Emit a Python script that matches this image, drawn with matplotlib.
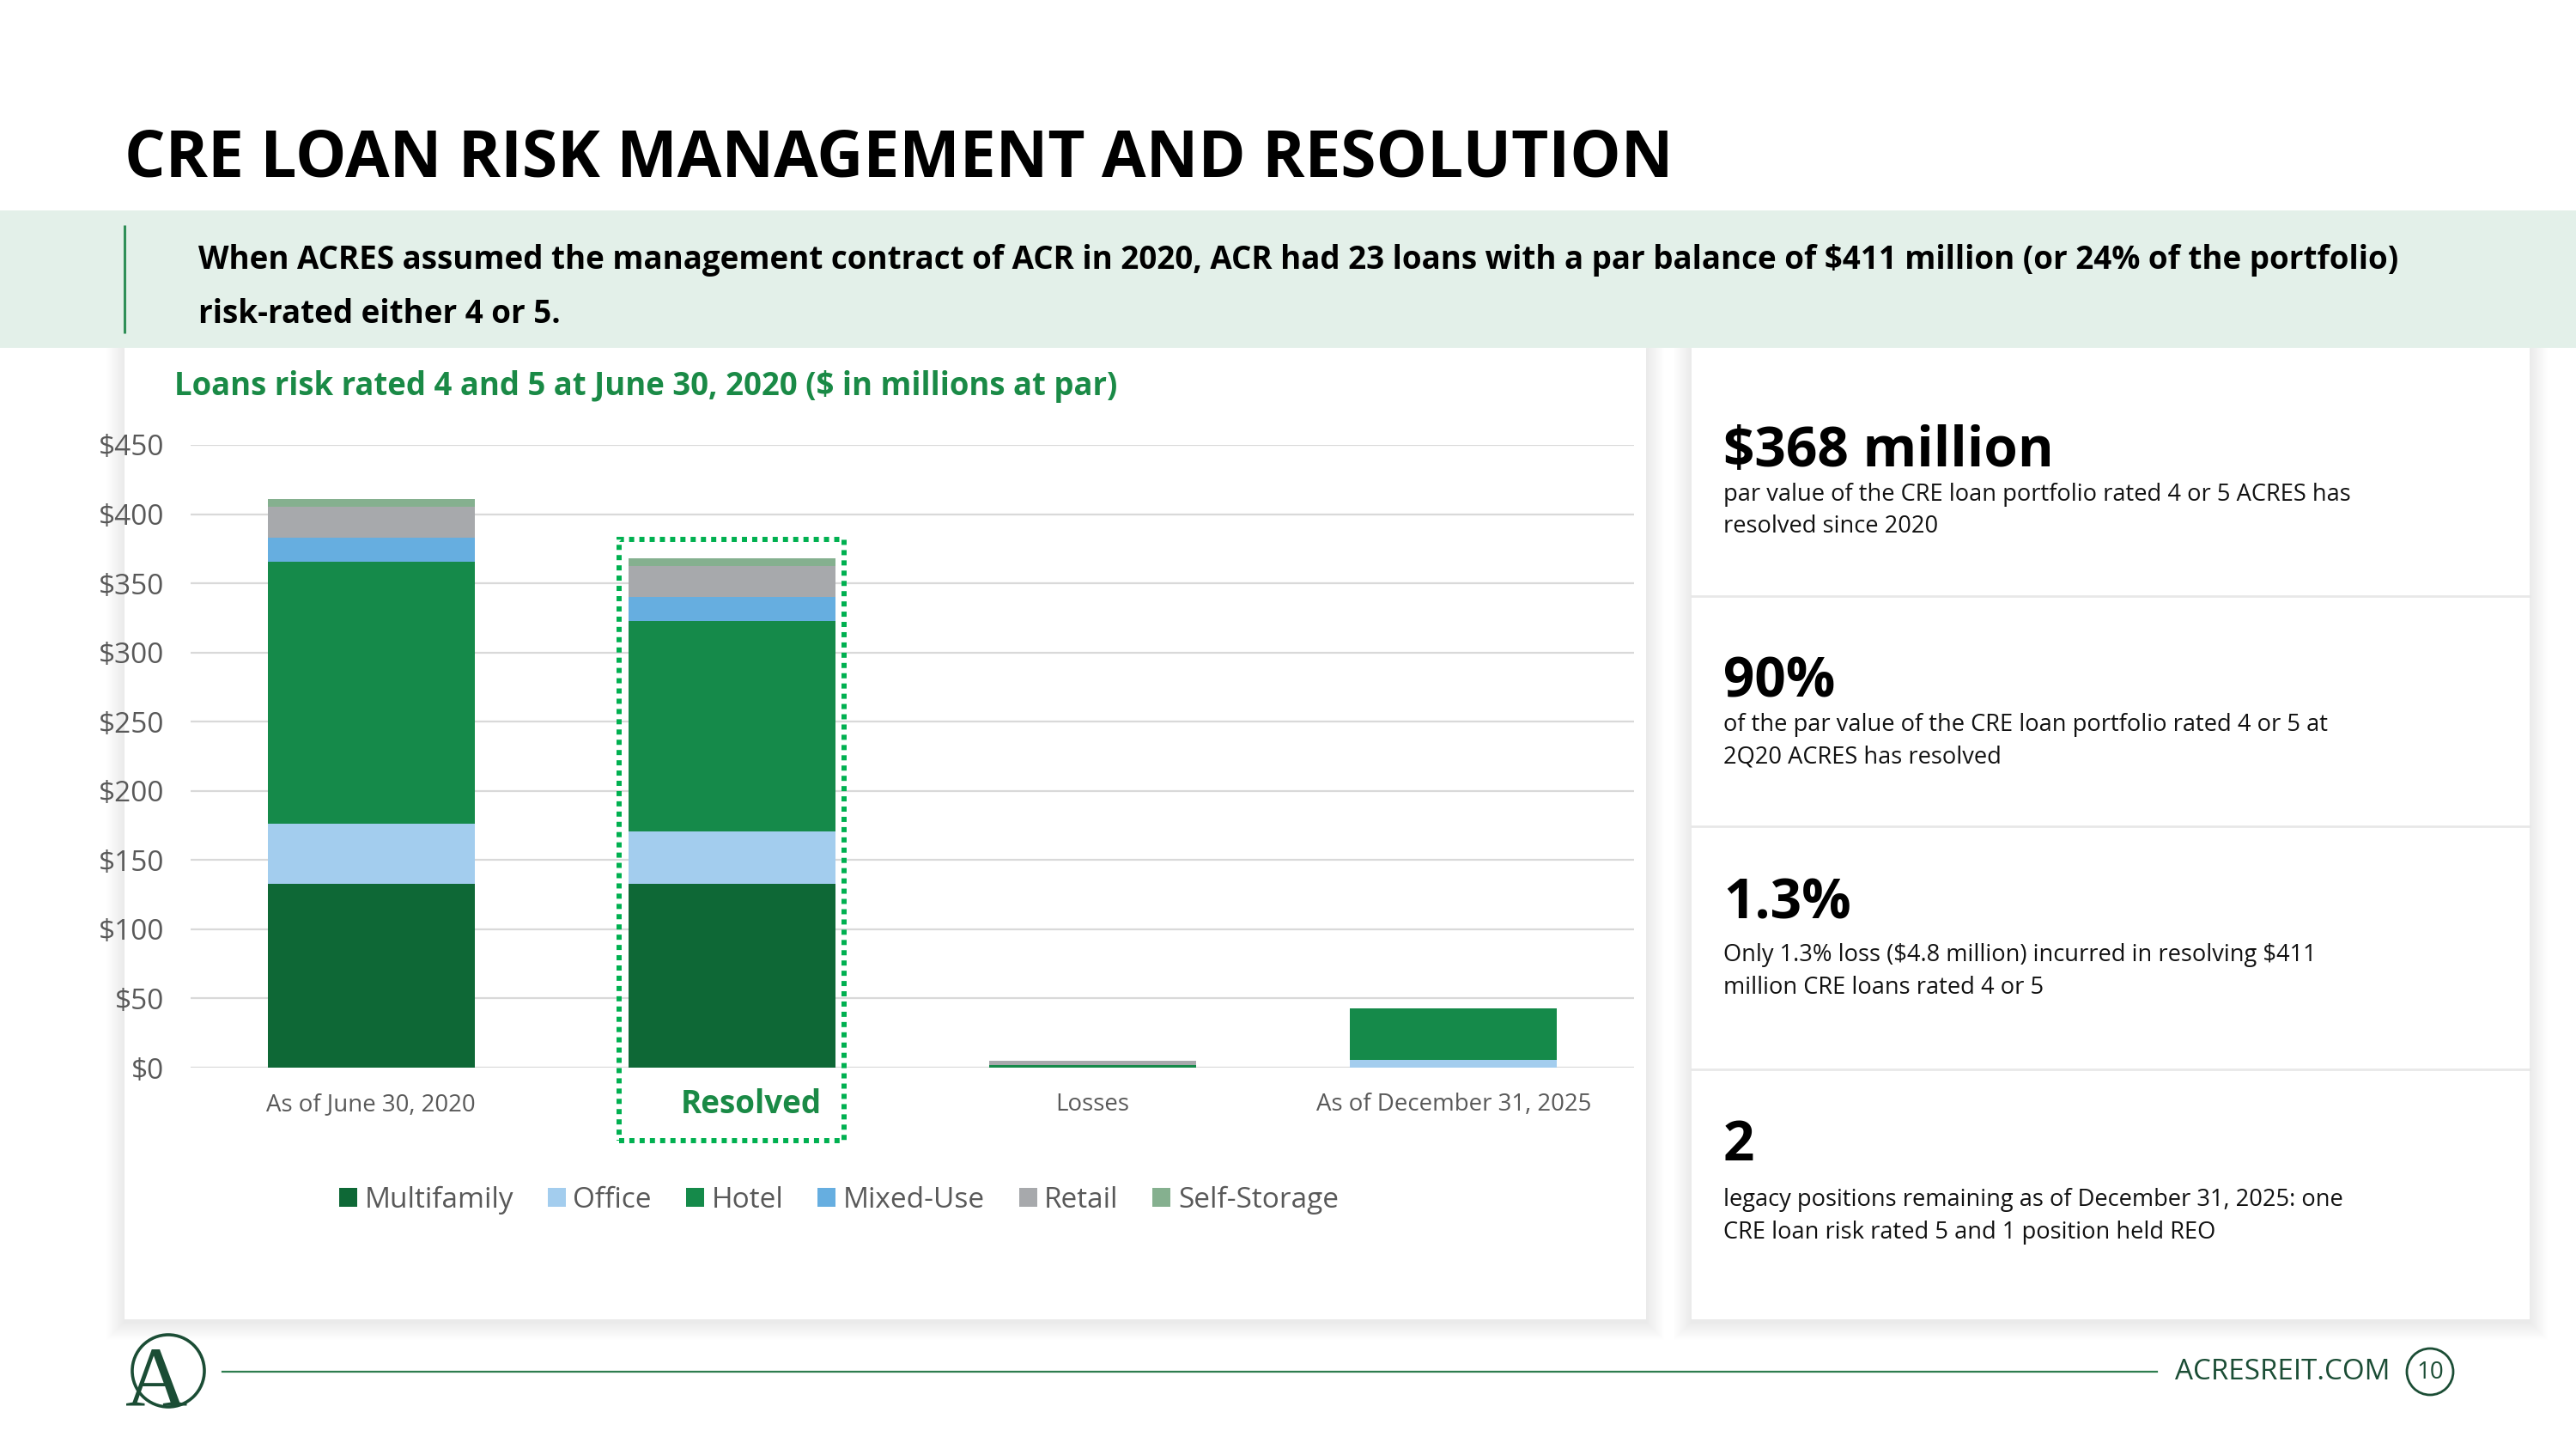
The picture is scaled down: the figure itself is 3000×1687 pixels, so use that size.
import matplotlib
matplotlib.use('Agg')
import matplotlib.pyplot as plt
from matplotlib.patches import Rectangle, Circle
from matplotlib.transforms import ScaledTranslation
import numpy as np

plt.rcParams['text.parse_math'] = False

# chart data ($ in millions at par)
categories = ['As of June 30, 2020', 'Resolved', 'Losses', 'As of December 31, 2025']
multifamily = [133, 133, 0, 0]
office = [43.2, 37.5, 0, 5.4]
hotel = [189.6, 152.4, 2.0, 37.5]
mixed_use = [17.2, 17.5, 0, 0]
retail = [22.4, 22.1, 2.8, 0]
self_storage = [5.5, 5.3, 0, 0]

series_names = ['Multifamily', 'Office', 'Hotel', 'Mixed-Use', 'Retail', 'Self-Storage']
series_colors = ['#0e6836', '#a3cdee', '#158a4a', '#66aee0', '#a7a9ac', '#85b08f']

y_ticks = [0, 50, 100, 150, 200, 250, 300, 350, 400, 450]

# right hand call-outs
stat_values = ['$368 million', '90%', '1.3%', '2']
stat_lines = [
    ['par value of the CRE loan portfolio rated 4 or 5 ACRES has', 'resolved since 2020'],
    ['of the par value of the CRE loan portfolio rated 4 or 5 at', '2Q20 ACRES has resolved'],
    ['Only 1.3% loss ($4.8 million) incurred in resolving $411', 'million CRE loans rated 4 or 5'],
    ['legacy positions remaining as of December 31, 2025: one', 'CRE loan risk rated 5 and 1 position held REO'],
]

W, H = 3000, 1687
GREEN = '#1a8a46'
DARK = '#1b4d35'
GREY_TXT = '#595959'
BODY = 'Open Sans'

fig = plt.figure(figsize=(30, 16.87), dpi=100)
fig.patch.set_facecolor('white')

# background layer in pixel coordinates
bg = fig.add_axes([0, 0, 1, 1], zorder=0)
bg.set_xlim(0, W)
bg.set_ylim(H, 0)
bg.axis('off')

panels = [(145, 405, 1917, 1536), (1970, 405, 2946, 1536)]
for x0, y0, x1, y1 in panels:
    for k in range(1, 22):
        bg.add_patch(Rectangle((x0 - k, y0 - k + 3), x1 - x0 + 2 * k, y1 - y0 + 2 * k,
                               facecolor='black', edgecolor='none', alpha=0.0035))
for x0, y0, x1, y1 in panels:
    bg.add_patch(Rectangle((x0, y0), x1 - x0, y1 - y0, facecolor='white', edgecolor='none'))

# green banner
bg.add_patch(Rectangle((0, 245), W, 160, facecolor='#e3f0e9', edgecolor='none'))
bg.plot([145, 145], [262, 388], color='#2f8f57', lw=2.2, solid_capstyle='butt')

bg.text(145, 205, 'CRE LOAN RISK MANAGEMENT AND RESOLUTION', family=BODY,
        fontsize=53.8, fontweight='bold', color='black', va='baseline')
bg.text(231, 313, 'When ACRES assumed the management contract of ACR in 2020, ACR had 23 loans '
        'with a par balance of $411 million (or 24% of the portfolio)',
        family=BODY, fontsize=26.5, fontweight='bold', color='black', va='baseline')
bg.text(231, 376, 'risk-rated either 4 or 5.', family=BODY, fontsize=26.5,
        fontweight='bold', color='black', va='baseline')

bg.text(203, 460, 'Loans risk rated 4 and 5 at June 30, 2020 ($ in millions at par)',
        family=BODY, fontsize=26.3, fontweight='bold', color=GREEN, va='baseline')

# right panel
for yy in [694, 962, 1245]:
    bg.plot([1970, 2946], [yy, yy], color='#e8e8e8', lw=2)
stat_base = [543, 811, 1069, 1351]
desc_base = [(583, 620), (851, 888), (1119, 1157), (1404, 1442)]
for val, lines, yb, (d1, d2) in zip(stat_values, stat_lines, stat_base, desc_base):
    bg.text(2007, yb, val, family=BODY, fontsize=46, fontweight='bold', color='black', va='baseline')
    bg.text(2007, d1, lines[0], family=BODY, fontsize=19.6, color='#111111', va='baseline')
    bg.text(2007, d2, lines[1], family=BODY, fontsize=19.6, color='#111111', va='baseline')

# footer
bg.add_patch(Circle((196, 1596), 42, facecolor='none', edgecolor=DARK, lw=2.6))
bg.text(182, 1637, 'A', family='Liberation Serif', fontsize=72, color=DARK,
        ha='center', va='baseline')
bg.plot([259, 2512], [1597, 1597], color='#2e7d4f', lw=1.6)
bg.text(2533, 1597, 'ACRESREIT.COM', family=BODY, fontsize=23.9, color=DARK, va='center')
bg.add_patch(Circle((2830, 1597), 27, facecolor='none', edgecolor=DARK, lw=2))
bg.text(2830, 1598, '10', family=BODY, fontsize=20, color=DARK, ha='center', va='center')

# chart
ax = fig.add_axes([222 / W, 1 - 1243 / H, (1903 - 222) / W, (1243 - 518) / H], zorder=2)
ax.patch.set_alpha(0)
x = np.arange(len(categories))
bar_w = 0.574
stack = [multifamily, office, hotel, mixed_use, retail, self_storage]
bottom = np.zeros(len(categories))
for vals, name, col in zip(stack, series_names, series_colors):
    ax.bar(x, vals, bar_w, bottom=bottom, color=col, label=name, zorder=3)
    bottom += np.array(vals)

ax.set_xlim(-0.5, 3.5)
ax.set_ylim(0, 450)
ax.set_yticks(y_ticks)
ax.set_yticklabels(['$' + str(v) for v in y_ticks], family=BODY, fontsize=24, color=GREY_TXT)
ax.yaxis.grid(True, color='#d9d9d9', lw=1.6, zorder=0)
ax.set_axisbelow(True)
for s in ax.spines.values():
    s.set_visible(False)
ax.tick_params(axis='both', length=0)
ax.tick_params(axis='y', pad=22)
ax.tick_params(axis='x', pad=31)
ax.set_xticks(x)
ax.set_xticklabels(categories, family=BODY, fontsize=19.9, color=GREY_TXT)
for lab in ax.get_xticklabels():
    lab.set_va('center')
res = ax.get_xticklabels()[1]
res.set_fontsize(26.5)
res.set_fontweight('bold')
res.set_color(GREEN)
res.set_transform(res.get_transform() + ScaledTranslation(0.22, 0, fig.dpi_scale_trans))

# dotted box round the resolved bar
pad_x = 0.025
ax.add_patch(Rectangle((x[1] - bar_w / 2 - pad_x, -53), bar_w + 2 * pad_x, bottom[1] + 14 + 53,
                       facecolor='none', edgecolor='#00b050', lw=4.3,
                       linestyle=(0, (1, 1)), clip_on=False, zorder=5))

handles, labels = ax.get_legend_handles_labels()
leg = fig.legend(handles, labels, loc='center', bbox_to_anchor=(977 / W, 1 - 1397 / H),
                 ncol=6, frameon=False, prop={'family': BODY, 'size': 24},
                 handlelength=0.63, handleheight=0.63, handletextpad=0.25, columnspacing=1.2)
for t in leg.get_texts():
    t.set_color(GREY_TXT)

fig.savefig('out.png', dpi=100)
